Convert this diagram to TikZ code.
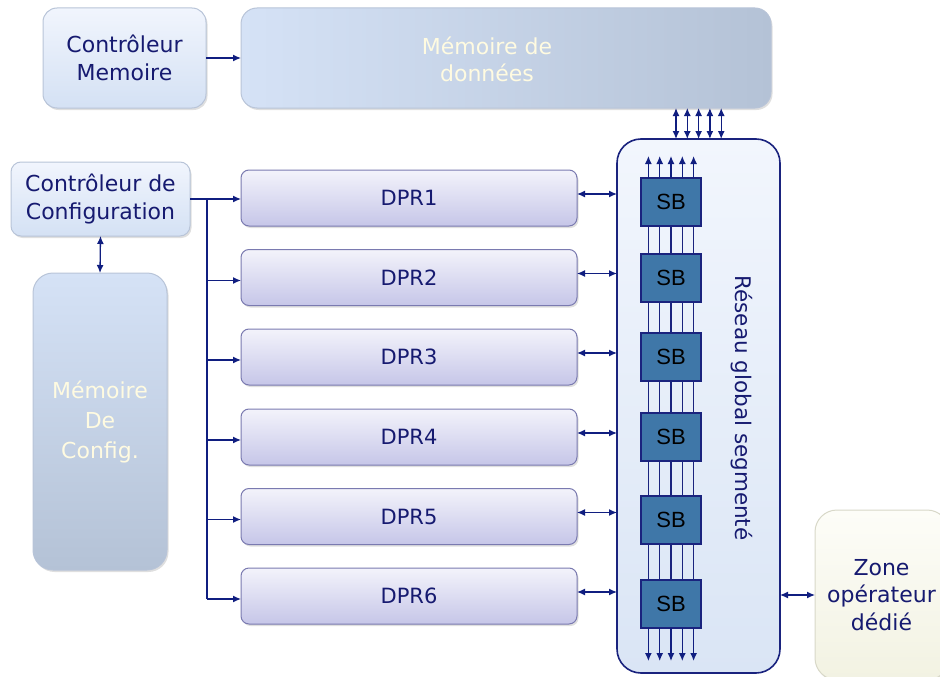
\documentclass[tikz,border=0pt]{standalone}
\usepackage{fontspec}
\setmainfont{DejaVu Sans}
\newfontfamily\arialfont{Liberation Sans}
\usetikzlibrary{arrows.meta,shadows,calc}
\definecolor{navytxt}{RGB}{22,26,112}
\definecolor{arrcol}{RGB}{16,30,128}
\definecolor{creamtxt}{RGB}{255,251,225}
\definecolor{lbTop}{RGB}{241,245,253}
\definecolor{lbBot}{RGB}{212,225,244}
\definecolor{lbBorder}{RGB}{184,196,216}
\definecolor{mdA}{RGB}{213,226,246}
\definecolor{mdB}{RGB}{180,194,214}
\definecolor{dprTop}{RGB}{243,243,251}
\definecolor{dprBot}{RGB}{198,198,232}
\definecolor{dprBorder}{RGB}{122,122,176}
\definecolor{netTop}{RGB}{242,246,253}
\definecolor{netBot}{RGB}{218,229,245}
\definecolor{netBorder}{RGB}{26,35,126}
\definecolor{sbFill}{RGB}{63,119,168}
\definecolor{zTop}{RGB}{253,253,248}
\definecolor{zBot}{RGB}{242,242,226}
\definecolor{zBorder}{RGB}{216,216,200}
\tikzset{
  shd/.style={drop shadow={opacity=0.25,shadow xshift=1.5pt,shadow yshift=-2pt}},
  lbox/.style={shd,draw=lbBorder,line width=1pt,top color=lbTop,bottom color=lbBot,
    rounded corners=14pt,inner sep=0pt,outer sep=0pt,align=center,text=navytxt,
    font=\fontsize{22}{28}\selectfont},
  membox/.style={shd,draw=lbBorder,line width=1pt,inner sep=0pt,outer sep=0pt,
    rounded corners=16pt},
  dprbox/.style={shd,draw=dprBorder,line width=1pt,top color=dprTop,bottom color=dprBot,
    rounded corners=8pt,inner sep=0pt,outer sep=0pt,minimum width=336pt,minimum height=56pt,
    text=navytxt,font=\fontsize{21}{26}\selectfont},
  sbbox/.style={draw=netBorder,line width=1.3pt,fill=sbFill,inner sep=0pt,outer sep=0pt,
    minimum width=60pt,minimum height=48pt,text=black,font=\arialfont\fontsize{22}{26}\selectfont},
  arr/.style={draw=arrcol,line width=1.3pt,-{Latex[length=8pt,width=7pt]}},
  dbl/.style={draw=arrcol,line width=1.3pt,{Latex[length=8pt,width=7pt]}-{Latex[length=8pt,width=7pt]}},
  busl/.style={draw=arrcol,line width=1.3pt},
  wire/.style={draw=netBorder,line width=1.3pt},
}
\begin{document}
\begin{tikzpicture}[x=1pt,y=-1pt]
\useasboundingbox (0,0) rectangle (940,677);

% top row
\node[lbox,minimum width=163pt,minimum height=100pt] (cm) at (124.5,58) {Contrôleur\\Memoire};
\node[membox,left color=mdA,right color=mdB,minimum width=530pt,minimum height=100pt] (mem) at (506,58) {};
\node[text=creamtxt,align=center,font=\fontsize{22}{27}\selectfont] (memt) at (487,59) {Mémoire de\\données};
\draw[arr] (cm.east) -- (mem.west);

% configuration
\node[lbox,rounded corners=10pt,minimum width=179pt,minimum height=74pt] (cc) at (100.5,199) {Contrôleur de\\Configuration};
\node[membox,rounded corners=20pt,top color=mdA,bottom color=mdB,minimum width=134pt,minimum height=297pt,
  text=creamtxt,align=center,font=\fontsize{22}{30}\selectfont] (mc) at (100,421.5) {Mémoire\\De\\Config.};
\draw[dbl] (cc.south) -- (mc.north);

% network
\node[draw=netBorder,line width=1.6pt,top color=netTop,bottom color=netBot,rounded corners=24pt,
  inner sep=0pt,outer sep=0pt,minimum width=163pt,minimum height=534pt] (net) at (698.5,406) {};
\node[rotate=-90,text=navytxt,font=\fontsize{21.5}{26}\selectfont] (netl) at (742,408) {Réseau global segmenté};

% DPR boxes
\foreach \i/\y in {1/198,2/277.5,3/357,4/437,5/516.5,6/596}{
  \node[dprbox] (dpr\i) at (409,\y) {DPR\i};
}
% configuration bus
\coordinate (bus) at (207,199);
\draw[arr] (cc.east |- bus) -- (dpr1.west |- bus);
\draw[busl] (bus) -- ($(bus |- dpr6.west)+(0,3)$);
\foreach \i in {2,...,6}{
  \draw[arr] ($(bus |- dpr\i.west)+(0,3)$) -- ($(dpr\i.west)+(0,3)$);
}
% DPR to network
\foreach \i in {1,...,6}{
  \draw[dbl] ($(dpr\i.east)+(0,-4)$) -- ($(net.west |- dpr\i.east)+(0,-4)$);
}

% SB column
\foreach \i/\y in {1/202,2/278,3/357,4/437,5/520,6/604}{
  \node[sbbox] (sb\i) at (671,\y) {SB};
}
\foreach \i [evaluate=\i as \j using int(\i+1)] in {1,...,5}{
  \foreach \d in {-22.6,-11.3,0,11.3,22.6}{
    \draw[wire] ([xshift=\d pt]sb\i.south) -- ([xshift=\d pt]sb\j.north);
  }
}
\foreach \d in {-22.6,-11.3,0,11.3,22.6}{
  \coordinate (tp) at ($(sb1.north)+(\d,-22)$);
  \draw[arr] ([xshift=\d pt]sb1.north) -- (tp);
  \coordinate (bt) at ($(sb6.south)+(\d,33)$);
  \draw[arr] ([xshift=\d pt]sb6.south) -- (bt);
}

% memory to network
\foreach \x in {676,687.3,698.6,709.9,721.2}{
  \draw[dbl] (\x,0 |- mem.south) -- (\x,0 |- net.north);
}

% zone operateur
\node[shd,draw=zBorder,line width=1pt,top color=zTop,bottom color=zBot,rounded corners=22pt,
  inner sep=0pt,outer sep=0pt,minimum width=134pt,minimum height=170pt] (zone) at (882,595) {};
\node[text=navytxt,align=center,font=\fontsize{22}{27.5}\selectfont] (zonet) at (881.5,595) {Zone\\opérateur\\dédié};
\draw[dbl] (net.east |- zone.west) -- (zone.west);
\end{tikzpicture}
\end{document}
